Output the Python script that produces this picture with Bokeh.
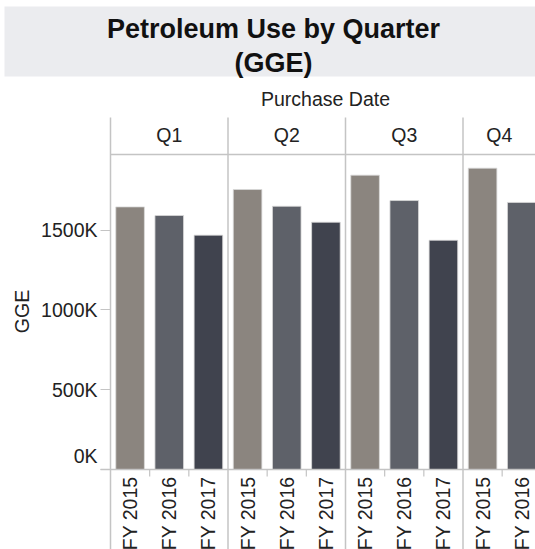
import math
from bokeh.plotting import figure
from bokeh.models import Range1d, FixedTicker, ColumnDataSource
from bokeh.embed import file_html
from bokeh.resources import INLINE
from bokeh.core.properties import value

# ---------------- data ----------------
quarters = ["Q1", "Q2", "Q3", "Q4"]
fiscal_years = ["FY 2015", "FY 2016", "FY 2017"]
fy2015 = [1646000, 1755000, 1845000, 1889000]
fy2016 = [1592000, 1650000, 1686000, 1674000]
fy2017 = [1469000, 1550000, 1437000, None]   # Q4 FY 2017 lies outside the visible view
year_colors = ["#8b857f", "#5e6169", "#40434e"]
y_ticks = [0, 500000, 1000000, 1500000]
y_tick_labels = ["0K", "500K", "1000K", "1500K"]
title_lines = ["Petroleum Use by Quarter", "(GGE)"]
column_header = "Purchase Date"
y_title = "GGE"

# ---------------- layout constants (page pixels) ----------------
W, H = 535, 549
LEFT = 110            # page x of the value axis / first panel edge
ZERO_PY = 469         # page y of value 0
PX_PER_VAL = 0.15953e-3
PX_PER_SLOT = 117.5 / 3
FONT = "Liberation Sans"
TXT = "#222222"
RULE = "#c4c4c4"
FS = "19.5px"


def xd(px):
    return (px - LEFT) / PX_PER_SLOT


def yd(py):
    return (ZERO_PY - py) / PX_PER_VAL


p = figure(width=W, height=H, x_range=Range1d(xd(0), xd(W)), y_range=Range1d(yd(H), yd(0)),
           output_backend="svg", toolbar_location=None, x_axis_location=None,
           y_axis_location="left", min_border=0, title=None)
p.outline_line_color = None
p.grid.visible = False
x_end = xd(W)

# title box and texts
p.quad(left=[xd(4)], right=[xd(W)], top=[yd(6)], bottom=[yd(76)],
       fill_color="#ebecef", line_color=None)
p.text(x=[xd(273)] * 2, y=[yd(28.8), yd(62.2)], text=title_lines, text_font=value(FONT),
       text_font_size="27px", text_font_style="bold", text_align="center",
       text_baseline="middle", text_color="#111111")
p.text(x=[xd(325)], y=[yd(98)], text=[column_header], text_font=value(FONT),
       text_font_size=FS, text_align="center", text_baseline="middle", text_color=TXT)

# bars
series = [fy2015, fy2016, fy2017]
xs, tops, cols, labs, lab_x = [], [], [], [], []
for qi, q in enumerate(quarters):
    for yi, vals in enumerate(series):
        xc = qi * 3 + yi + 0.5
        if xc < x_end:
            lab_x.append(xc)
            labs.append(fiscal_years[yi])
        if vals[qi] is None:
            continue
        xs.append(xc)
        tops.append(vals[qi])
        cols.append(year_colors[yi])

src = ColumnDataSource(dict(x=xs, top=tops, color=cols))
p.vbar(x="x", top="top", width=0.73, bottom=0, source=src, fill_color="color",
       line_color="#d9d9d9", line_width=0.8)

# panel separators (incl. left edge) from header top to bottom
sep_x = [3 * k for k in range(len(quarters))]
p.segment(x0=sep_x, x1=sep_x, y0=[yd(117)] * len(sep_x), y1=[yd(H)] * len(sep_x),
          line_color=RULE, line_width=1.5)
# header rule and zero line
p.segment(x0=[0, xd(100)], x1=[x_end, x_end], y0=[yd(154), 0], y1=[yd(154), 0],
          line_color=RULE, line_width=1.5)

# small ticks between year slots
tick_x = [qi * 3 + j for qi in range(len(quarters)) for j in (1, 2) if qi * 3 + j < x_end]
p.segment(x0=tick_x, x1=tick_x, y0=[0] * len(tick_x), y1=[yd(ZERO_PY + 7)] * len(tick_x),
          line_color=RULE, line_width=1.2)

# quarter headers
q_x = [min(qi * 3 + 1.5, (qi * 3 + x_end) / 2) for qi in range(len(quarters))]
p.text(x=q_x, y=[yd(134)] * len(quarters), text=quarters, text_font=value(FONT),
       text_font_size=FS, text_align="center", text_baseline="middle", text_color=TXT)

# fiscal year labels (vertical)
p.text(x=lab_x, y=[0] * len(lab_x), text=labs, angle=math.pi / 2, y_offset=7,
       text_font=value(FONT), text_font_size=FS, text_align="right",
       text_baseline="middle", text_color=TXT)

# y axis drawn at the first panel's left edge
ya = p.yaxis[0]
ya.fixed_location = 0
ya.ticker = FixedTicker(ticks=y_ticks, minor_ticks=[])
overrides = {t: l for t, l in zip(y_ticks, y_tick_labels)}
overrides[y_ticks[0]] = ""          # bottom label is lifted above its tick (drawn below)
ya.major_label_overrides = overrides
ya.axis_line_color = None
ya.major_tick_line_color = RULE
ya.major_tick_line_width = 1.2
ya.major_tick_out = 10
ya.major_tick_in = 0
ya.major_label_standoff = 3
ya.major_label_text_font = FONT
ya.major_label_text_font_size = FS
ya.major_label_text_color = TXT

# bottom tick label, lifted above the baseline as in the reference
p.text(x=[xd(LEFT - 13)], y=[y_ticks[0]], text=[y_tick_labels[0]], y_offset=-14,
       text_font=value(FONT), text_font_size=FS, text_align="right",
       text_baseline="middle", text_color=TXT)

# value-axis title
p.text(x=[xd(21.5)], y=[yd(311)], text=[y_title], angle=math.pi / 2,
       text_font=value(FONT), text_font_size=FS, text_align="center",
       text_baseline="middle", text_color=TXT)

open("out.html", "w").write(file_html(p, INLINE))
